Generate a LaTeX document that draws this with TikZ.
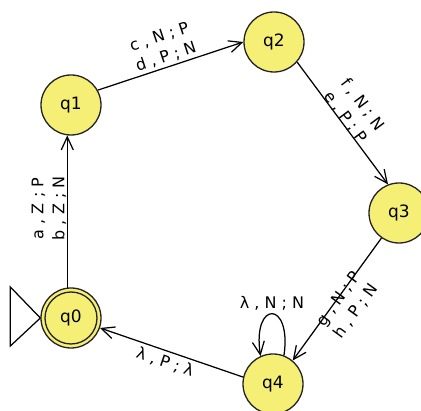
\documentclass[tikz,border=0pt]{standalone}
\usepackage{fontspec}
\setmainfont{DejaVu Sans}
\usetikzlibrary{arrows.meta}
\definecolor{stfill}{RGB}{245,239,118}
\definecolor{stline}{RGB}{35,35,35}
\begin{document}
\begin{tikzpicture}[x=1pt,y=-1pt,
  stnode/.style={circle,draw=stline,line width=1.3pt,fill=stfill,minimum size=60pt,inner sep=0pt,font=\fontsize{17}{20}\selectfont},
  tr/.style={draw=black,line width=1.25pt,-{Straight Barb[length=13pt,width=12pt,line width=1.25pt]}},
  lbl/.style={sloped,inner sep=0pt,align=center,font=\fontsize{16}{21}\selectfont},
  looplbl/.style={inner sep=0pt,align=center,font=\fontsize{16}{21}\selectfont},
]
\useasboundingbox (0,0) rectangle (421,411);
\node[stnode] (q0) at (71,318) {q0};
\node[stnode] (q1) at (71,105) {q1};
\node[stnode] (q2) at (274,42) {q2};
\node[stnode] (q3) at (399,213) {q3};
\node[stnode] (q4) at (273,384) {q4};
\draw[draw=stline,line width=1.3pt] (q0.center) circle[radius=26pt];
\draw[line width=1.25pt] (q0.west) -- ++(-30,-31) -- ++(0,59) -- cycle;
\draw[tr] (q0.97) -- node[lbl,above=0.3pt,pos=0.52] {a , Z ; P\\b , Z ; N} (q1.263);
\draw[tr] (q1.29) -- node[lbl,above=2.5pt,pos=0.49] {c , N ; P\\d , P ; N} (q2.180);
\draw[tr] (q2.-41) -- node[lbl,above=-1.3pt,pos=0.48] {f , N ; N\\e , P ; P} (q3.111);
\draw[tr] (q3.-125) -- node[lbl,below=-5.8pt,pos=0.49] {g , N ; P\\h , P ; N} (q4.50);
\draw[tr] (q4.167) -- node[lbl,below=3.6pt,pos=0.52] {λ , P ; λ} (q0.-19);
\draw[tr] (q4.69) .. controls (292,300) and (252,300) .. node[looplbl,above=3pt,pos=0.5] {λ , N ; N} (q4.114);
\end{tikzpicture}
\end{document}
